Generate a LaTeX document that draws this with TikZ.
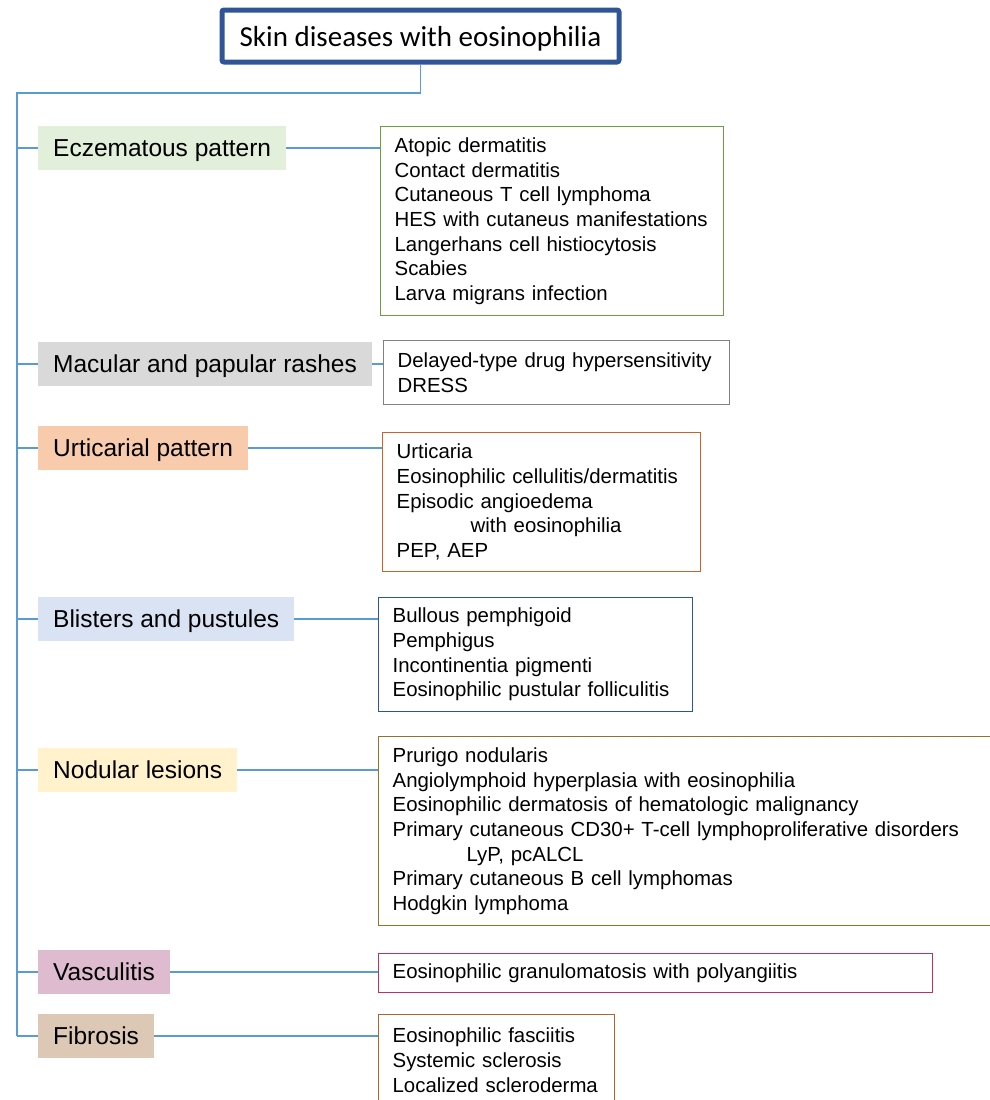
\documentclass[tikz,border=0pt]{standalone}
\usepackage{fontspec}
\setmainfont{Liberation Sans}
\newfontfamily\titlefont{Carlito}
\usepackage{tikz}

\definecolor{conncol}{HTML}{5B9BD5}
\definecolor{titleblue}{HTML}{2F5597}
\definecolor{eczfill}{HTML}{E2EFDA}
\definecolor{eczline}{HTML}{6A9F42}
\definecolor{macfill}{HTML}{D9D9D9}
\definecolor{macline}{HTML}{808080}
\definecolor{urtfill}{HTML}{F8CBAD}
\definecolor{urtline}{HTML}{C8642A}
\definecolor{blifill}{HTML}{DAE3F3}
\definecolor{bliline}{HTML}{2F5597}
\definecolor{nodfill}{HTML}{FFF2CC}
\definecolor{nodline}{HTML}{8C762C}
\definecolor{vasfill}{HTML}{DFBBCF}
\definecolor{vasline}{HTML}{B8336A}
\definecolor{fibfill}{HTML}{DCC8B4}
\definecolor{fibline}{HTML}{A8692E}

\begin{document}
\begin{tikzpicture}[x=1pt, y=-1pt,
		conn/.style={draw=conncol, line width=1.1pt},
		catbox/.style={fill=#1, anchor=west, inner xsep=15pt, inner ysep=0pt, minimum height=44pt,
			text height=22pt, text depth=5pt, font=\fontsize{24.5}{28}\selectfont},
		listbox/.style={draw=#1, line width=1.3pt, fill=white, anchor=north west, align=left,
			inner xsep=14pt, inner ysep=0pt, font=\fontsize{20.4}{24.7}\selectfont}]
		\useasboundingbox (0,0) rectangle (989,1100);
		\node[draw=titleblue, line width=5pt, rounded corners=2pt, minimum width=397pt, minimum height=52pt,
			inner sep=0pt, text height=27pt, text depth=7pt,
			font=\titlefont\fontsize{29}{33}\selectfont] (title) at (420.5,36) {Skin diseases with eosinophilia};
		\foreach[count=\i] \cname/\cfill/\cy in {{Eczematous pattern}/eczfill/148,
				{Macular and papular rashes}/macfill/364, {Urticarial pattern}/urtfill/448,
				{Blisters and pustules}/blifill/619, {Nodular lesions}/nodfill/770,
				{Vasculitis}/vasfill/972, {Fibrosis}/fibfill/1036} {
			\node[catbox=\cfill] (cat-\i) at (38,\cy) {\cname};
		}
		\node[listbox=eczline, minimum height=189pt, text width=315pt] (list-1) at (380,126) {Atopic dermatitis\\
			Contact dermatitis\\ Cutaneous T cell lymphoma\\ HES with cutaneus manifestations\\
			Langerhans cell histiocytosis\\ Scabies\\ Larva migrans infection};
		\node[listbox=macline, minimum height=64pt, text width=318pt] (list-2) at (383,340) {Delayed-type drug hypersensitivity\\ DRESS};
		\node[listbox=urtline, minimum height=139pt, text width=290pt] (list-3) at (382,432) {Urticaria\\
			Eosinophilic cellulitis/dermatitis\\ Episodic angioedema\\ \hspace*{74pt}with eosinophilia\\ PEP, AEP};
		\node[listbox=bliline, minimum height=114pt, text width=286pt] (list-4) at (378,597) {Bullous pemphigoid\\
			Pemphigus\\ Incontinentia pigmenti\\ Eosinophilic pustular folliculitis};
		\node[listbox=nodline, minimum height=189pt, text width=600pt] (list-5) at (378,736) {Prurigo nodularis\\
			Angiolymphoid hyperplasia with eosinophilia\\ Eosinophilic dermatosis of hematologic malignancy\\
			Primary cutaneous CD30+ T-cell lymphoproliferative disorders\\ \hspace*{74pt}LyP, pcALCL\\
			Primary cutaneous B cell lymphomas\\ Hodgkin lymphoma};
		\node[listbox=vasline, minimum height=39pt, text width=526pt] (list-6) at (378,953) {Eosinophilic granulomatosis with polyangiitis};
		\node[listbox=fibline, minimum height=91pt, text width=208pt] (list-7) at (378,1014) {Eosinophilic fasciitis\\
			Systemic sclerosis\\ Localized scleroderma};
		\coordinate (spine) at (17,93);
		\draw[conn] (title.south) |- (spine) -- (spine |- cat-7.west);
		\foreach \i in {1,...,7} {
			\draw[conn] (spine |- cat-\i.west) -- (cat-\i.west);
			\draw[conn] (cat-\i.east) -- (cat-\i.east -| list-\i.west);
		}
	\end{tikzpicture}
\end{document}
